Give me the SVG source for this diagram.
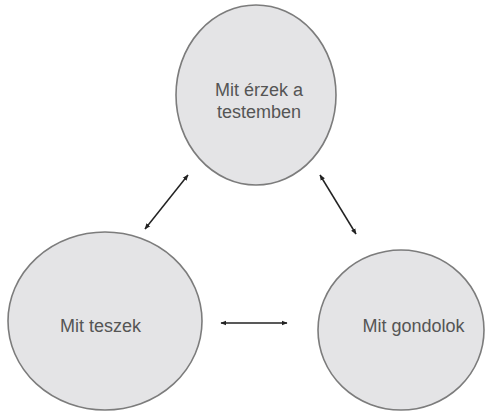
<svg xmlns="http://www.w3.org/2000/svg" width="486" height="412" viewBox="0 0 486 412">
<style>
.node ellipse{fill:#e4e4e6;stroke:#7c7c7c;stroke-width:1.6}
.node text{font-family:"Liberation Sans",Arial,sans-serif;font-size:18px;fill:#555;text-anchor:middle}
.conn line{stroke:#222;stroke-width:1.5;marker-start:url(#a);marker-end:url(#a)}
</style>
<defs>
<marker id="a" viewBox="0 0 10 10" refX="9" refY="5" markerWidth="6" markerHeight="6" orient="auto-start-reverse" markerUnits="userSpaceOnUse">
<path d="M0,1 L10,5 L0,9 Z" fill="#222"/>
</marker>
</defs>
<rect width="486" height="412" fill="#fff"/>
<g id="top" class="node">
<ellipse cx="256" cy="95" rx="80" ry="90"/>
<text x="259" y="96">Mit érzek a</text>
<text x="259" y="118">testemben</text>
</g>
<g id="left" class="node">
<ellipse cx="105" cy="321" rx="97" ry="89"/>
<text x="100.5" y="332">Mit teszek</text>
</g>
<g id="right" class="node">
<ellipse cx="401" cy="330" rx="83" ry="80"/>
<text x="413.5" y="332">Mit gondolok</text>
</g>
<g id="connectors" class="conn">
<line x1="145" y1="229" x2="188" y2="175"/>
<line x1="320" y1="175" x2="356" y2="234"/>
<line x1="221" y1="323" x2="287" y2="323"/>
</g>
</svg>
